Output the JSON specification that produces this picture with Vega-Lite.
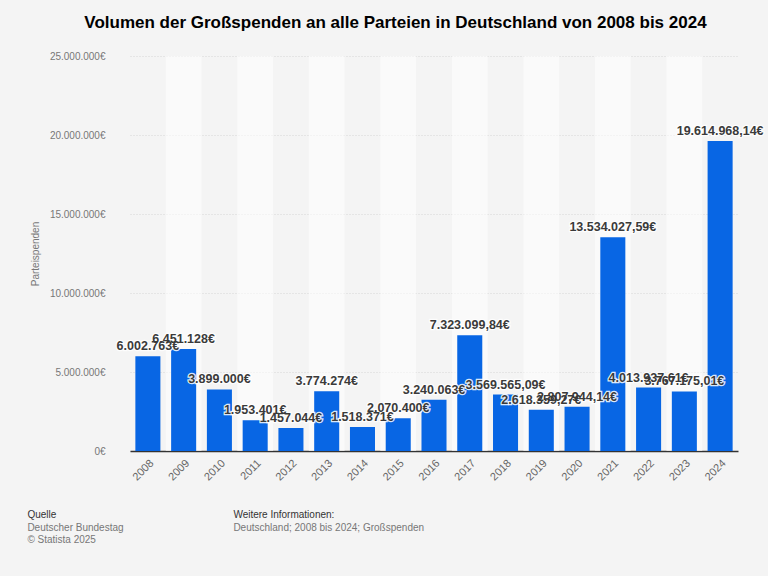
{
  "$schema": "https://vega.github.io/schema/vega-lite/v6.json",
  "background": "#f4f4f4",
  "padding": {"top": 14, "left": 27, "right": 6, "bottom": 31},
  "config": {
    "locale": {"number": {"decimal": ",", "thousands": ".", "grouping": [3], "currency": ["", "€"]}},
    "font": "Liberation Sans",
    "view": {"stroke": null},
    "concat": {"spacing": 0}
  },
  "title": {
    "text": "Volumen der Großspenden an alle Parteien in Deutschland von 2008 bis 2024",
    "fontSize": 17, "fontWeight": "bold", "color": "#000", "anchor": "middle", "offset": 19
  },
  "vconcat": [
    {
      "title": {
        "text": "Weitere Informationen:", "subtitle": "Deutschland; 2008 bis 2024; Großspenden",
        "orient": "bottom", "anchor": "start", "frame": "bounds", "dx": 206, "dy": -35, "offset": 0,
        "fontSize": 10, "fontWeight": "normal", "color": "#333",
        "subtitleFontSize": 10, "subtitleColor": "#777", "subtitlePadding": 3
      },
      "vconcat": [
        {
          "title": {
            "text": "Quelle", "subtitle": ["Deutscher Bundestag", "© Statista 2025"],
            "orient": "bottom", "anchor": "start", "frame": "bounds", "offset": 28, "dx": -3,
            "fontSize": 10, "fontWeight": "normal", "color": "#333",
            "subtitleFontSize": 10, "subtitleColor": "#777", "subtitlePadding": 3
          },
          "width": 608,
          "height": 395,
          "data": {"values": [
            {"year": "2008", "value": 6002763},
            {"year": "2009", "value": 6451128},
            {"year": "2010", "value": 3899000},
            {"year": "2011", "value": 1953401},
            {"year": "2012", "value": 1457044},
            {"year": "2013", "value": 3774274},
            {"year": "2014", "value": 1518371},
            {"year": "2015", "value": 2070400},
            {"year": "2016", "value": 3240063},
            {"year": "2017", "value": 7323099.84},
            {"year": "2018", "value": 3569565.09},
            {"year": "2019", "value": 2618359.27},
            {"year": "2020", "value": 2807944.14},
            {"year": "2021", "value": 13534027.59},
            {"year": "2022", "value": 4013937.61},
            {"year": "2023", "value": 3767175.01},
            {"year": "2024", "value": 19614968.14}
          ]},
          "encoding": {
            "x": {
              "field": "year", "type": "ordinal",
              "scale": {"paddingInner": 0.3, "paddingOuter": 0.15},
              "axis": {
                "title": null, "labelAngle": -45, "labelFontSize": 11, "labelColor": "#666",
                "ticks": false, "domainColor": "#333", "domainWidth": 1.5, "labelPadding": 6, "grid": false
              }
            }
          },
          "layer": [
            {
              "transform": [{"filter": "toNumber(datum.year) % 2 == 1"}],
              "mark": {"type": "bar", "color": "white", "opacity": 0.55, "width": {"band": 1.4286}},
              "encoding": {
                "y": {"datum": 25000000, "type": "quantitative"},
                "y2": {"datum": 0}
              }
            },
            {
              "mark": {"type": "bar", "color": "#0866e4"},
              "encoding": {
                "y": {
                  "field": "value", "type": "quantitative",
                  "scale": {"domain": [0, 25000000], "nice": false},
                  "axis": {
                    "title": "Parteispenden",
                    "values": [0, 5000000, 10000000, 15000000, 20000000, 25000000],
                    "format": "$,.0f", "labelFontSize": 10, "labelColor": "#777", "labelPadding": 25,
                    "ticks": false, "domain": false, "grid": true, "gridColor": "#d6d6d6", "gridDash": [1, 2],
                    "titleFontSize": 10, "titleFontWeight": "normal", "titleColor": "#777", "titlePadding": 9
                  }
                }
              }
            },
            {
              "transform": [{"filter": "datum.value % 1 == 0"}],
              "mark": {"type": "text", "baseline": "bottom", "dy": -3, "fontSize": 12.5, "fontWeight": "bold", "fill": "white", "stroke": "white", "strokeWidth": 2.5, "strokeOpacity": 0.85},
              "encoding": {"y": {"field": "value", "type": "quantitative"}, "text": {"field": "value", "format": "$,.0f"}}
            },
            {
              "transform": [{"filter": "datum.value % 1 != 0"}],
              "mark": {"type": "text", "baseline": "bottom", "dy": -3, "fontSize": 12.5, "fontWeight": "bold", "fill": "white", "stroke": "white", "strokeWidth": 2.5, "strokeOpacity": 0.85},
              "encoding": {"y": {"field": "value", "type": "quantitative"}, "text": {"field": "value", "format": "$,.2f"}}
            },
            {
              "transform": [{"filter": "datum.value % 1 == 0"}],
              "mark": {"type": "text", "baseline": "bottom", "dy": -3, "fontSize": 12.5, "fontWeight": "bold", "color": "#3a3a3a"},
              "encoding": {"y": {"field": "value", "type": "quantitative"}, "text": {"field": "value", "format": "$,.0f"}}
            },
            {
              "transform": [{"filter": "datum.value % 1 != 0"}],
              "mark": {"type": "text", "baseline": "bottom", "dy": -3, "fontSize": 12.5, "fontWeight": "bold", "color": "#3a3a3a"},
              "encoding": {"y": {"field": "value", "type": "quantitative"}, "text": {"field": "value", "format": "$,.2f"}}
            }
          ]
        }
      ]
    }
  ]
}
